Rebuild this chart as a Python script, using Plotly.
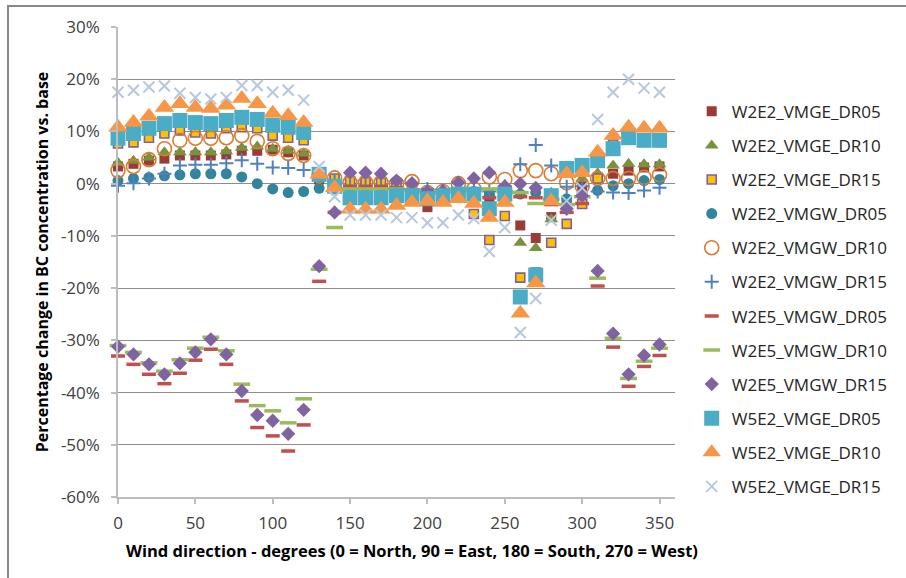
import plotly.graph_objects as go

# Wind direction (degrees) for every sample
wind_dir = list(range(0, 360, 10))

# Percentage change in BC concentration vs. base, one list per scenario
w2e2_vmge_dr05 = [3.3, 3.8, 4.4, 4.8, 5.4, 5.4, 5.4, 5.6, 6.3, 6.3, 6.5, 6.0, 5.4, 0.8, 0.6, 0.2, 0.2, 0.2,
                  0.0, -0.5, -4.5, -2.5, -2.0, -2.5, -2.7, -3.0, -8.0, -10.4, -6.4, -4.0, -0.5, 1.2, 1.9, 2.5, 3.1, 3.3]
w2e2_vmge_dr10 = [4.0, 4.4, 5.0, 6.0, 6.0, 6.0, 6.0, 6.2, 6.9, 7.1, 6.7, 6.3, 5.8, 1.0, 0.5, 0.0, 0.0, 0.0,
                  -0.5, -1.0, -2.5, -2.0, -1.5, -2.0, -2.0, -2.5, -11.3, -12.3, -6.8, -3.5, 1.0, 2.0, 3.5, 3.8, 3.7, 3.7]
w2e2_vmge_dr15 = [7.7, 7.9, 8.8, 9.6, 10.2, 9.8, 9.6, 10.6, 10.8, 10.6, 9.2, 8.8, 8.3, 1.5, 1.0, 0.5, 0.3, 0.3,
                  -0.5, -1.0, -2.0, -3.0, -2.5, -5.8, -10.8, -6.2, -18.0, -17.0, -11.3, -7.7, -3.9, 1.0, 7.5, 8.5, 8.2, 8.0]
w2e2_vmgw_dr05 = [0.6, 1.0, 1.2, 1.5, 1.7, 1.9, 1.9, 1.9, 1.3, 0.0, -1.0, -1.7, -1.5, -0.9, -1.0, -2.0, -2.0, -2.0,
                  -2.0, -2.0, -2.0, -2.0, -1.5, -1.5, -2.0, -1.5, -2.0, -1.7, -2.5, -2.9, -2.0, -1.3, -0.4, 0.0, 0.6, 0.8]
w2e2_vmgw_dr10 = [2.5, 3.3, 4.6, 6.7, 8.3, 8.7, 8.7, 8.8, 9.2, 8.1, 6.7, 5.8, 5.4, 1.5, 1.1, 0.2, 0.2, 0.2,
                  0.0, 0.4, -1.7, -1.5, 0.0, -1.0, 1.3, 0.8, 2.5, 2.5, 1.9, 0.2, -0.5, 1.0, 1.0, 1.0, 1.2, 1.7]
w2e2_vmgw_dr15 = [-0.4, 0.1, 1.0, 1.9, 3.5, 3.6, 3.6, 3.9, 4.5, 3.8, 3.1, 3.0, 2.6, 1.5, 0.5, -0.5, -0.5, -0.5,
                  -0.8, -1.0, -1.0, -1.5, -1.0, -1.0, -1.5, -0.5, 3.7, 7.4, 3.5, -0.6, -0.5, -1.5, -1.7, -1.8, -1.3, -0.8]
w2e5_vmgw_dr05 = [-33.0, -34.6, -36.5, -38.3, -36.3, -33.8, -31.7, -34.6, -41.6, -46.7, -48.3, -51.2, -46.2, -18.7,
                  -5.5, -0.5, -0.5, -0.5, -0.8, -1.5, -2.0, -2.0, -1.5, -2.0, -2.7, -2.5, -2.5, -2.7, -4.0, -5.5,
                  -3.8, -19.6, -31.3, -38.8, -35.0, -32.9]
w2e5_vmgw_dr10 = [-31.0, -32.3, -34.3, -35.9, -33.7, -31.5, -29.4, -32.0, -38.4, -42.5, -43.5, -45.8, -41.2, -16.4,
                  -8.4, -1.0, -1.0, -1.0, -1.0, -1.2, -1.5, -1.5, -1.0, -1.3, -1.0, -1.5, -1.7, -3.8, -3.0, -4.0,
                  -2.5, -18.1, -29.6, -37.3, -34.0, -31.5]
w2e5_vmgw_dr15 = [-31.2, -32.7, -34.6, -36.5, -34.4, -32.3, -29.8, -32.7, -39.7, -44.3, -45.4, -47.9, -43.3, -15.8,
                  -5.5, 2.1, 2.1, 1.9, 0.6, 0.1, -1.5, -1.4, 0.2, 1.0, 2.1, -0.5, 0.0, -0.8, -2.0, -4.8,
                  -2.3, -16.7, -28.7, -36.5, -32.9, -30.8]
w5e2_vmge_dr05 = [8.7, 9.6, 10.6, 11.5, 12.1, 11.7, 11.5, 12.1, 12.7, 12.3, 11.2, 10.8, 9.8, 1.8, -0.5, -2.7, -2.7,
                  -2.7, -2.3, -2.3, -2.9, -2.3, -2.0, -2.0, -4.8, -2.0, -21.7, -17.5, -2.3, 2.9, 3.5, 4.4, 6.7, 8.8,
                  8.3, 8.3]
w5e2_vmge_dr10 = [10.8, 11.7, 12.9, 14.6, 15.3, 14.6, 14.4, 15.0, 16.3, 15.3, 13.5, 13.0, 11.7, 1.8, -0.8, -4.9,
                  -4.9, -4.9, -4.2, -3.6, -3.3, -3.6, -2.9, -3.8, -6.5, -3.6, -24.8, -19.0, -3.3, 1.9, 2.1, 6.0,
                  9.2, 10.8, 10.6, 10.6]
w5e2_vmge_dr15 = [17.5, 17.9, 18.5, 18.7, 17.3, 16.5, 16.2, 16.5, 18.8, 18.8, 17.5, 17.9, 16.0, 3.3, -2.5, -6.0,
                  -6.0, -6.0, -6.5, -6.5, -7.5, -7.5, -6.0, -6.7, -13.0, -8.4, -28.5, -22.0, -7.0, -3.3, -0.8, 12.3,
                  17.5, 20.0, 18.3, 17.5]

y_ticks = list(range(-60, 31, 10))
y_tick_labels = [f"{v}%" for v in y_ticks]
x_ticks = list(range(0, 351, 50))

FONT = "Open Sans"

# name, values, marker style
series = [
    ("W2E2_VMGE_DR05", w2e2_vmge_dr05, dict(symbol="square", size=10, color="#9B3B38")),
    ("W2E2_VMGE_DR10", w2e2_vmge_dr10, dict(symbol="triangle-up", size=12, color="#77933C")),
    ("W2E2_VMGE_DR15", w2e2_vmge_dr15, dict(symbol="square", size=9, color="#FFC000",
                                            line=dict(color="#7F60A0", width=1.6))),
    ("W2E2_VMGW_DR05", w2e2_vmgw_dr05, dict(symbol="circle", size=11, color="#31859C")),
    ("W2E2_VMGW_DR10", w2e2_vmgw_dr10, dict(symbol="circle-open", size=14, color="#DA7D34",
                                            line=dict(width=1.6))),
    ("W2E2_VMGW_DR15", w2e2_vmgw_dr15, dict(symbol="cross-thin-open", size=10, color="#4F81BD",
                                            line=dict(color="#4F81BD", width=2))),
    ("W2E5_VMGW_DR05", w2e5_vmgw_dr05, dict(symbol="line-ew-open", size=10, color="#C0504D",
                                            line=dict(color="#C0504D", width=3.5))),
    ("W2E5_VMGW_DR10", w2e5_vmgw_dr10, dict(symbol="line-ew-open", size=12, color="#9BBB59",
                                            line=dict(color="#9BBB59", width=3.5))),
    ("W2E5_VMGW_DR15", w2e5_vmgw_dr15, dict(symbol="diamond", size=11, color="#8064A2")),
    ("W5E2_VMGE_DR05", w5e2_vmge_dr05, dict(symbol="square", size=15, color="#4BACC6")),
    ("W5E2_VMGE_DR10", w5e2_vmge_dr10, dict(symbol="triangle-up", size=17, color="#F79646")),
    ("W5E2_VMGE_DR15", w5e2_vmge_dr15, dict(symbol="x-thin-open", size=11, color="#B8C7DF",
                                            line=dict(color="#B8C7DF", width=2))),
]

fig = go.Figure()
for i, (name, vals, marker) in enumerate(series):
    fig.add_trace(go.Scatter(
        x=wind_dir, y=vals, name=name, mode="markers", marker=marker,
        cliponaxis=False, legendgroup=f"g{i}",
    ))

axis_font = dict(family=FONT, size=17, color="#404040")

fig.update_layout(
    width=906, height=578,
    margin=dict(l=118, r=231, t=27, b=81),
    paper_bgcolor="white", plot_bgcolor="white",
    showlegend=True,
    legend=dict(
        x=1.03, y=0.858, xanchor="left", yanchor="top",
        font=dict(family=FONT, size=17, color="#262626"),
        traceorder="grouped", tracegroupgap=9,
        bgcolor="rgba(0,0,0,0)",
    ),
    xaxis=dict(
        range=[0, 360], tickvals=x_ticks, showgrid=False, zeroline=False,
        showline=True, linecolor="#BDBDBD", linewidth=1.5,
        ticks="outside", ticklen=5, tickcolor="#BDBDBD", tickwidth=1.5,
        tickfont=axis_font, ticklabelstandoff=5,
    ),
    yaxis=dict(
        range=[-60, 30], tickvals=y_ticks, ticktext=y_tick_labels,
        showgrid=True, gridcolor="#8E8E8E", gridwidth=1, zeroline=False,
        showline=True, linecolor="#BDBDBD", linewidth=1.5,
        ticks="outside", ticklen=5, tickcolor="#BDBDBD", tickwidth=1.5,
        tickfont=axis_font, ticklabelstandoff=8,
    ),
    annotations=[
        dict(text="<b>Wind direction - degrees (0 = North, 90 = East, 180 = South, 270 = West)</b>",
             xref="paper", yref="paper", x=0.528, y=-0.113, xanchor="center", yanchor="middle",
             showarrow=False, font=dict(family=FONT, size=16.5, color="black")),
        dict(text="<b>Percentage change in BC concentration vs. base</b>",
             xref="paper", yref="paper", x=-0.136, y=0.5, xanchor="center", yanchor="middle",
             textangle=-90, showarrow=False, font=dict(family=FONT, size=16, color="black")),
    ],
    shapes=[
        # chart-area frame
        dict(type="rect", xref="paper", yref="paper", x0=-0.1975, y0=-0.25, x1=1.5, y1=1.0447,
             line=dict(color="#898989", width=2), fillcolor="rgba(0,0,0,0)", layer="below"),
    ],
)

fig.write_html("out.html")
